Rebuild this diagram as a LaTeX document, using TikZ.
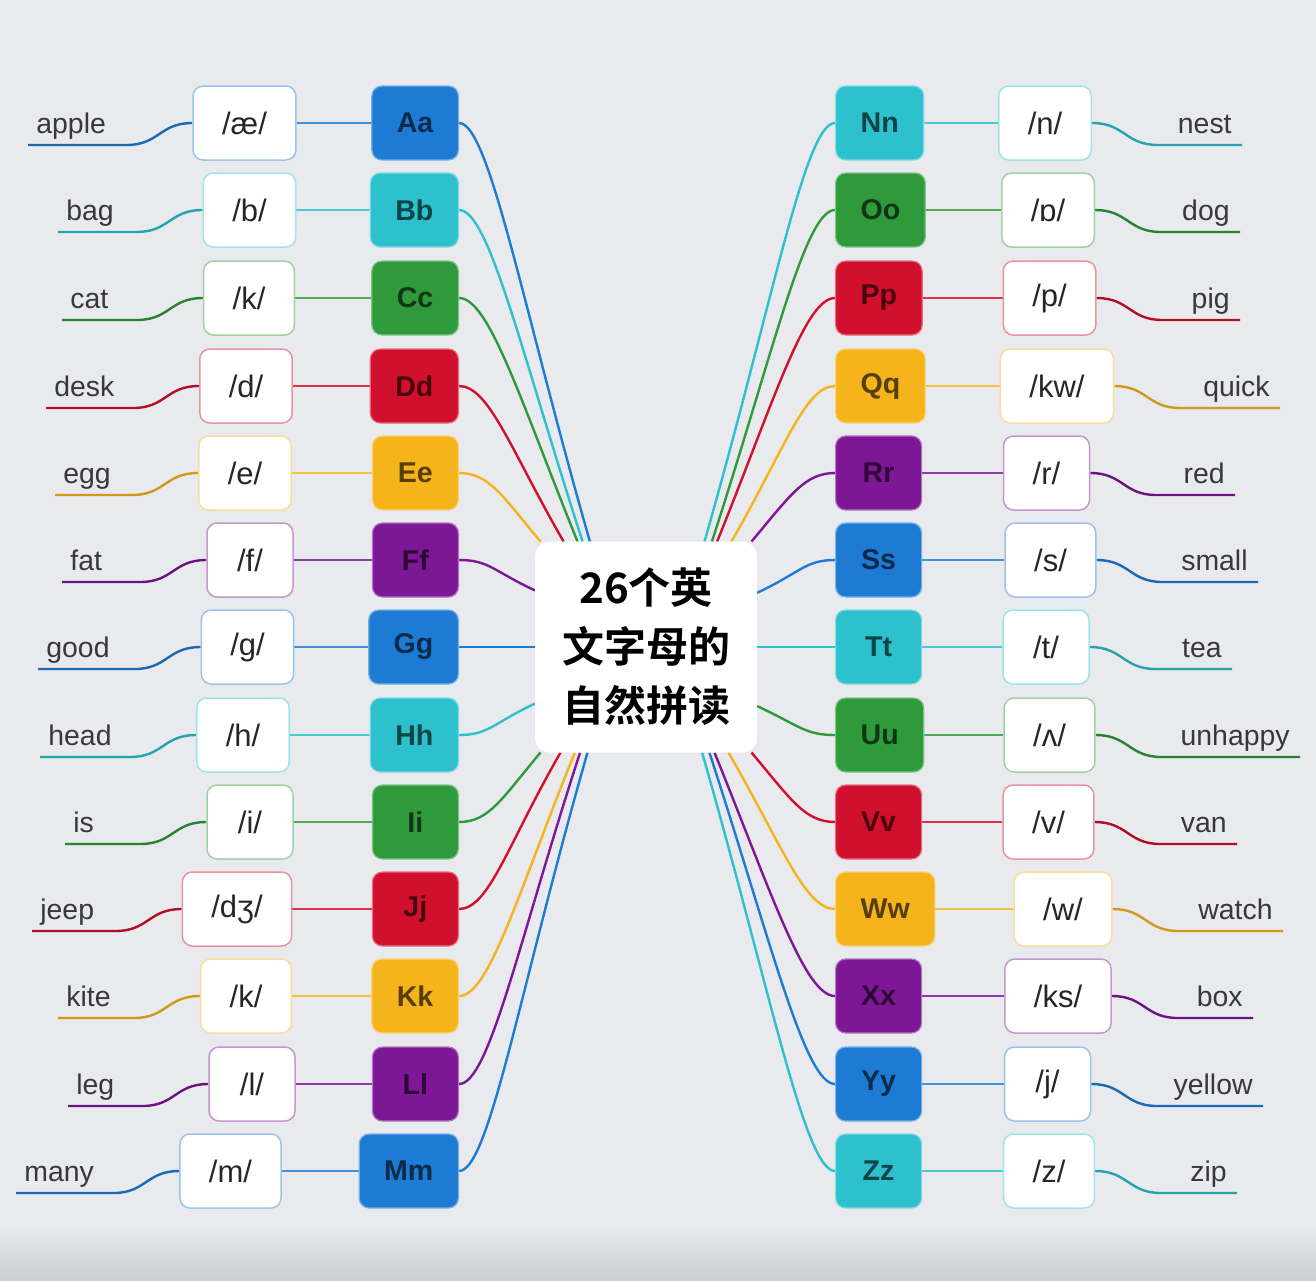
\documentclass[tikz,border=0pt]{standalone}
\usepackage{fontspec}
\setmainfont{Liberation Sans}
\newfontfamily\cjk{Noto Sans CJK SC}[BoldFont={Noto Sans CJK SC Bold}]
\usetikzlibrary{calc}
\definecolor{cblue}{HTML}{1E7BD4}
\definecolor{ccyan}{HTML}{2CC1CC}
\definecolor{cgreen}{HTML}{2F9A3B}
\definecolor{cred}{HTML}{D0102C}
\definecolor{cyellow}{HTML}{F6B41C}
\definecolor{cpurple}{HTML}{7D1796}
\definecolor{bgc}{HTML}{E8EAED}
\pgfdeclarelayer{bgl}
\pgfdeclarelayer{connl}
\pgfsetlayers{bgl,connl,main}
\begin{document}
\begin{tikzpicture}[x=0.5pt,y=-0.5pt,
  letterbox/.style={rounded corners=5pt, minimum height=37pt, minimum width=43pt,
    inner xsep=12.5pt, line width=0.6pt, font=\fontsize{14.3}{16}\selectfont\bfseries},
  phonbox/.style={rounded corners=5pt, fill=white, minimum height=37pt, minimum width=43pt,
    inner xsep=14.5pt, line width=0.75pt, font=\fontsize{15.5}{18}\selectfont, text=black!85},
  wordtext/.style={inner ysep=0pt, text depth=5.5pt, font=\fontsize{14.2}{16}\selectfont, text=black!78},
  conn/.style={line width=1.2pt},
  centerbox/.style={fill=white, rounded corners=7.5pt, minimum width=111pt, minimum height=105.5pt,
    outer sep=0pt, align=center, font=\cjk\bfseries\fontsize{21}{29.5}\selectfont}
]
\useasboundingbox (0,0) rectangle (1316,1280);
\begin{pgfonlayer}{bgl}
  \fill[bgc] (0,0) rectangle (1316,1280);
  \shade[top color=bgc, bottom color=bgc!88!black] (0,1228) rectangle (1316,1280);
\end{pgfonlayer}

\node[centerbox] (ctr) at (646,647) {26个英\\文字母的\\自然拼读};

% left side
\foreach \rn/\ry/\rc/\rw/\rs/\rp/\rx/\rl/\ra/\ri in {
  a/123/cblue/apple/28/æ/244.5/Aa/118.8/106,
  b/210/ccyan/bag/58/b/249.5/Bb/121.2/108,
  c/298/cgreen/cat/62/k/249/Cc/123.9/112,
  d/386/cred/desk/46/d/246/Dd/128.5/120,
  e/473/cyellow/egg/55/e/245/Ee/135/130,
  f/560/cpurple/fat/62/f/250/Ff/153.9/155,
  g/647/cblue/good/38/g/247.5/Gg/180/180,
  h/735/ccyan/head/40/h/243/Hh/207.8/205,
  i/822/cgreen/is/65/i/250/Ii/225/230,
  j/909/cred/jeep/32/dʒ/237/Jj/231.5/240,
  k/996/cyellow/kite/58/k/246/Kk/236.1/248,
  l/1084/cpurple/leg/68/l/252/Ll/238.8/252,
  m/1171/cblue/many/16/m/230.5/Mm/241.2/254}{
  \node[letterbox, fill=\rc, draw=\rc!60!white, text=\rc!35!black, anchor=east] (L\rn) at (459,\ry) {\rl};
  \node[phonbox, draw=\rc!45!white] (P\rn) at (\rx,\ry) {/\rp/};
  \node[wordtext, inner xsep=4pt, anchor=south west] (W\rn) at (\rs,\ry+22) {\rw};
  \begin{pgfonlayer}{connl}
    \draw[conn, draw=\rc] (L\rn.east) to[out=0, in=\ri, out distance=15pt, in looseness=1.45] (ctr.\ra);
    \draw[conn, draw=\rc!85!white] (P\rn.east) -- (L\rn.west);
    \draw[conn, draw=\rc!85!black] (W\rn.south west) -- ($(P\rn.west)+(-66,22)$)
       .. controls +(33,0) and +(-33,0) .. (P\rn.west);
  \end{pgfonlayer}
}

% right side
\foreach \rn/\ry/\rc/\rw/\rs/\rp/\rx/\rl/\ra/\ri in {
  n/123/ccyan/nest/1242/n/1045/Nn/61.2/74,
  o/210/cgreen/dog/1240/ɒ/1048/Oo/58.8/72,
  p/298/cred/pig/1240/p/1049.5/Pp/56.1/68,
  q/386/cyellow/quick/1280/kw/1057/Qq/51.5/60,
  r/473/cpurple/red/1235/r/1046.5/Rr/45/50,
  s/560/cblue/small/1258/s/1050.5/Ss/26.1/25,
  t/647/ccyan/tea/1232/t/1046/Tt/0/0,
  u/735/cgreen/unhappy/1300/ʌ/1049.5/Uu/332.2/335,
  v/822/cred/van/1237/v/1048.5/Vv/315/310,
  w/909/cyellow/watch/1283/w/1063/Ww/308.5/300,
  x/996/cpurple/box/1253/ks/1058/Xx/303.9/292,
  y/1084/cblue/yellow/1263/j/1047.5/Yy/301.2/288,
  z/1171/ccyan/zip/1237/z/1049/Zz/298.8/286}{
  \node[letterbox, fill=\rc, draw=\rc!60!white, text=\rc!35!black, anchor=west] (L\rn) at (835,\ry) {\rl};
  \node[phonbox, draw=\rc!45!white] (P\rn) at (\rx,\ry) {/\rp/};
  \node[wordtext, inner xsep=5pt, anchor=south east] (W\rn) at (\rs,\ry+22) {\rw};
  \begin{pgfonlayer}{connl}
    \draw[conn, draw=\rc] (L\rn.west) to[out=180, in=\ri, out distance=15pt, in looseness=1.45] (ctr.\ra);
    \draw[conn, draw=\rc!85!white] (L\rn.east) -- (P\rn.west);
    \draw[conn, draw=\rc!85!black] (P\rn.east) .. controls +(33,0) and +(-33,0) ..
       ($(P\rn.east)+(66,22)$) -- (W\rn.south east);
  \end{pgfonlayer}
}
\end{tikzpicture}
\end{document}
